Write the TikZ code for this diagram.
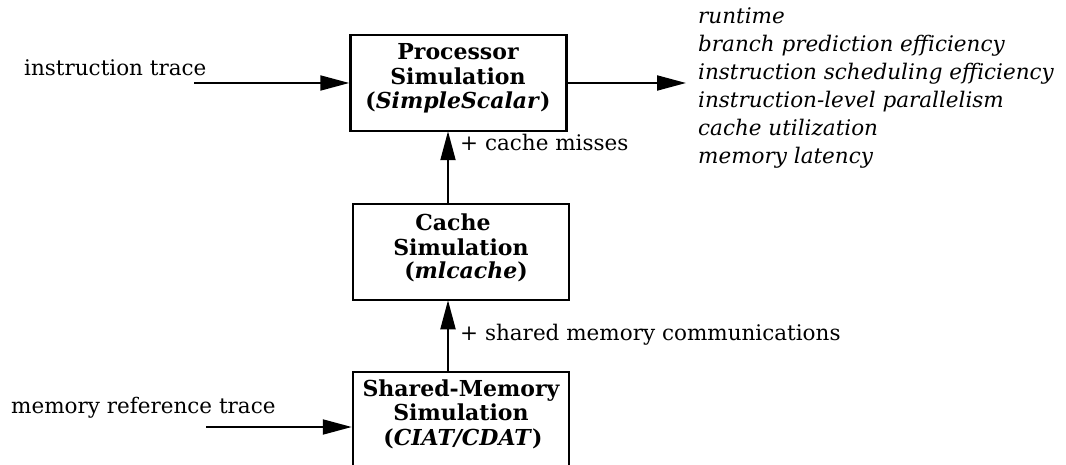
\documentclass[tikz,border=0pt]{standalone}
\usepackage{fontspec}
\setmainfont{DejaVu Serif}
\usetikzlibrary{arrows.meta}
\begin{document}
\begin{tikzpicture}[x=1pt,y=-1pt,
  box/.style={draw,line width=2.5pt,minimum width=216pt,inner sep=0pt},
  conn/.style={line width=2pt,-{Triangle[length=29pt,width=15pt]}},
  lbl/.style={font=\fontsize{21.5}{26}\selectfont,inner sep=0pt,anchor=base west},
  res/.style={font=\fontsize{21.5}{26}\selectfont\itshape,inner sep=0pt,anchor=base west},
  btxt/.style={font=\fontsize{22}{26}\selectfont\bfseries,inner sep=0pt,anchor=base}
]
\useasboundingbox (0,0) rectangle (1066,465);
% boxes
\node[box,minimum height=96pt] (proc) at (458.5,83) {};
\node[box,minimum height=96pt] (cache) at (461,252) {};
\node[box,minimum height=150pt] (shm) at (461,447) {};
% box texts
\node[btxt] (p1) at (458,60) {Processor};
\node[btxt] (p2) at (458,85) {Simulation};
\node[btxt] (p3) at (458,109) {(\textit{SimpleScalar})};
\node[btxt] (c1) at (453,231) {Cache};
\node[btxt] (c2) at (461,255) {Simulation};
\node[btxt] (c3) at (466,279) {(\textit{mlcache})};
\node[btxt] (s1) at (461,396) {Shared-Memory};
\node[btxt] (s2) at (461,420) {Simulation};
\node[btxt] (s3) at (463,445) {(\textit{CIAT/CDAT})};
% input labels
\node[lbl] (it) at (24,76) {instruction trace};
\node[lbl] (mt) at (11,413) {memory reference trace};
\coordinate (itstart) at (194,83);
\coordinate (mtstart) at (206,427);
\draw[conn] (itstart) -- (proc.west);
\draw[conn] (mtstart) -- (mtstart -| shm.west);
% vertical arrows
\coordinate (ax) at (448,0);
\draw[conn,shorten >=-1pt] (cache.north -| ax) -- (proc.south -| ax);
\draw[conn,shorten >=-1pt] (shm.north -| ax) -- (cache.south -| ax);
\node[lbl] (cm) at (460,151) {+ cache misses};
\node[lbl] (sm) at (460,340) {+ shared memory communications};
% output
\coordinate (out) at (686,83);
\draw[conn] (proc.east) -- (out);
\node[res] (r1) at (698,24) {runtime};
\node[res] (r2) at (698,52) {branch prediction efficiency};
\node[res] (r3) at (698,80) {instruction scheduling efficiency};
\node[res] (r4) at (698,108) {instruction-level parallelism};
\node[res] (r5) at (698,136) {cache utilization};
\node[res] (r6) at (698,164) {memory latency};
\end{tikzpicture}
\end{document}
